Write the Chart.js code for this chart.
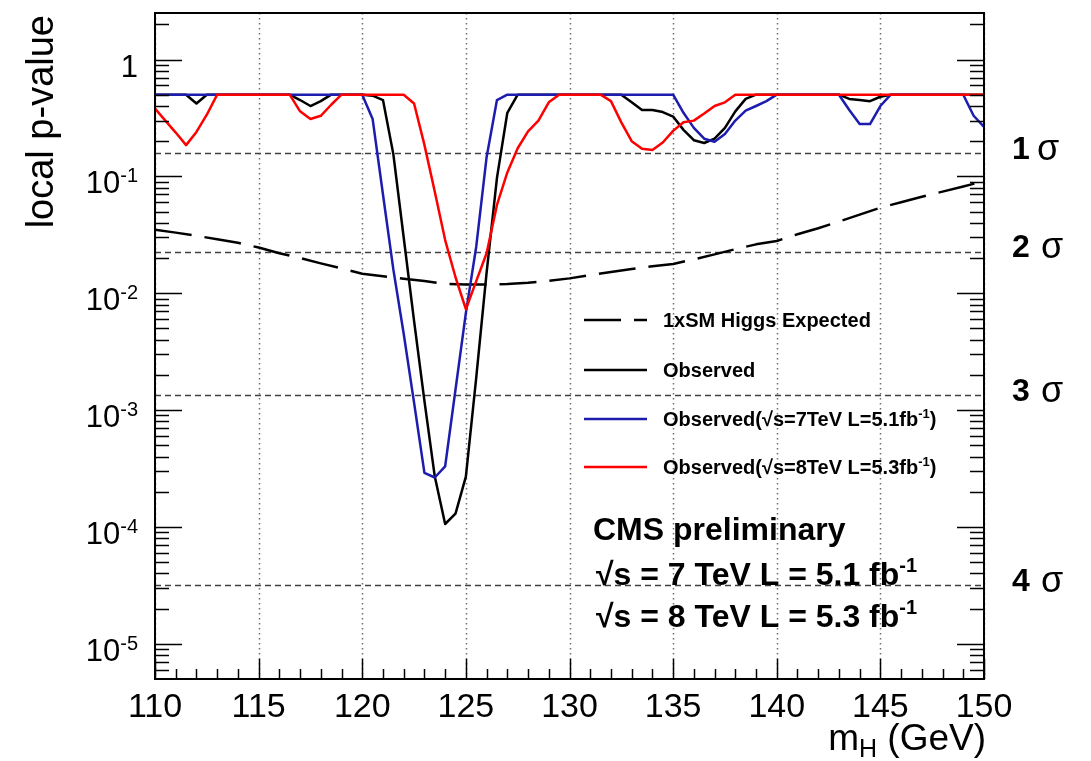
<!DOCTYPE html>
<html>
<head>
<meta charset="utf-8">
<script src="https://cdn.jsdelivr.net/npm/chart.js@4.4.1/dist/chart.umd.min.js"></script>
<style>
  html, body { margin: 0; padding: 0; background: #fff; }
  #wrap { width: 1091px; height: 761px; }
</style>
</head>
<body>
<div id="wrap"><canvas id="pvalueChart" width="1091" height="761"></canvas></div>
<script>
// scan points, 0.5 GeV steps
const masses = [
  110, 110.5, 111, 111.5, 112, 112.5, 113, 113.5, 114, 114.5,
  115, 115.5, 116, 116.5, 117, 117.5, 118, 118.5, 119, 119.5,
  120, 120.5, 121, 121.5, 122, 122.5, 123, 123.5, 124, 124.5,
  125, 125.5, 126, 126.5, 127, 127.5, 128, 128.5, 129, 129.5,
  130, 130.5, 131, 131.5, 132, 132.5, 133, 133.5, 134, 134.5,
  135, 135.5, 136, 136.5, 137, 137.5, 138, 138.5, 139, 139.5,
  140, 140.5, 141, 141.5, 142, 142.5, 143, 143.5, 144, 144.5,
  145, 145.5, 146, 146.5, 147, 147.5, 148, 148.5, 149, 149.5,
  150
];

// combined observed
const observed = [
  .5, .5, .5, .5, .42, .5, .5, .5, .5, .5,
  .5, .5, .5, .5, .45, .40, .44, .5, .5, .5,
  .5, .49, .45, .155, .03, .0058, .0012, 2.7e-4, 1.06e-4, 1.3e-4,
  2.7e-4, 1.9e-3, .015, .097, .35, .5, .5, .5, .5, .5,
  .5, .5, .5, .5, .5, .5, .43, .37, .37, .355,
  .325, .25, .204, .193, .21, .26, .36, .46, .5, .5,
  .5, .5, .5, .5, .5, .5, .5, .46, .45, .44,
  .48, .5, .5, .5, .5, .5, .5, .5, .5, .5,
  .5
];

// 7 TeV observed
const observed7 = [
  .5, .5, .5, .5, .5, .5, .5, .5, .5, .5,
  .5, .5, .5, .5, .5, .5, .5, .5, .5, .5,
  .5, .31, .07, .016, 4.5e-3, 1.16e-3, 2.9e-4, 2.65e-4, 3.3e-4, 1.5e-3,
  6.8e-3, .025, .146, .45, .5, .5, .5, .5, .5, .5,
  .5, .5, .5, .5, .5, .5, .5, .5, .5, .5,
  .5, .35, .26, .21, .198, .23, .30, .365, .40, .44,
  .5, .5, .5, .5, .5, .5, .5, .37, .28, .28,
  .40, .5, .5, .5, .5, .5, .5, .5, .5, .33,
  .265
];

// 8 TeV observed
const observed8 = [
  .38, .30, .237, .185, .24, .337, .5, .5, .5, .5,
  .5, .5, .5, .5, .36, .31, .33, .41, .5, .5,
  .5, .5, .5, .5, .5, .42, .186, .074, .0285, .0137,
  .0073, .0127, .022, .057, .108, .174, .243, .30, .43, .5,
  .5, .5, .5, .5, .44, .29, .20, .172, .168, .195,
  .245, .29, .30, .345, .40, .43, .5, .5, .5, .5,
  .5, .5, .5, .5, .5, .5, .5, .5, .5, .5,
  .5, .5, .5, .5, .5, .5, .5, .5, .5, .5,
  .5
];

// SM Higgs expected
const expectedMass = [110, 111, 112, 113, 114, 115, 116, 117, 118, 119, 120, 121, 122, 123, 124, 125, 126, 127, 128, 129,
  130, 131, 132, 133, 134, 135, 136, 137, 138, 139, 140, 141, 142, 143, 144, 145, 146, 147, 148, 149, 150];
const expectedSM = [.035, .033, .031, .029, .027, .0246, .022, .020, .018, .0163, .0147, .0140, .0133, .0127, .0120, .0119, .0119, .0120, .0123, .0128,
  .0134, .0143, .0152, .0161, .0170, .0178, .0195, .0215, .0238, .0262, .028, .032, .036, .041, .047, .054, .060, .067, .074, .082, .091];

const xTicks = [110, 115, 120, 125, 130, 135, 140, 145, 150];
const yTicks = [1, 1e-1, 1e-2, 1e-3, 1e-4, 1e-5];
const yTickExp = ['', '-1', '-2', '-3', '-4', '-5'];
const sigmaP = [0.158655, 0.0227501, 0.0013499, 3.16712e-5];
const sigmaNames = ['1', '2', '3', '4'];

const FONT = '"Liberation Sans", Arial, Helvetica, sans-serif';

// draws pieces of text one after another: [text, font, dy]
function drawRich(ctx, parts, x, y, align) {
  let total = 0;
  parts.forEach(p => { ctx.font = p[1]; total += ctx.measureText(p[0]).width; });
  let cx = align === 'right' ? x - total : x;
  ctx.textAlign = 'left';
  ctx.textBaseline = 'alphabetic';
  parts.forEach(p => {
    ctx.font = p[1];
    ctx.fillText(p[0], cx, y + (p[2] || 0));
    cx += ctx.measureText(p[0]).width;
  });
}

const rootStyle = {
  id: 'rootStyle',
  beforeDatasetsDraw(chart) {
    const { ctx, chartArea: a, scales: { x, y } } = chart;
    ctx.save();
    // dotted grid on major x ticks
    ctx.strokeStyle = '#6e6e6e';
    ctx.lineWidth = 1.5;
    ctx.setLineDash([1.5, 3.5]);
    xTicks.forEach(v => {
      const px = Math.round(x.getPixelForValue(v)) + 0.5;
      ctx.beginPath(); ctx.moveTo(px, a.top); ctx.lineTo(px, a.bottom); ctx.stroke();
    });
    // sigma lines
    ctx.strokeStyle = '#404040';
    ctx.setLineDash([6, 4]);
    sigmaP.forEach(p => {
      const py = Math.round(y.getPixelForValue(p)) + 0.5;
      ctx.beginPath(); ctx.moveTo(a.left, py); ctx.lineTo(a.right, py); ctx.stroke();
    });
    ctx.restore();
  },
  afterDatasetsDraw(chart) {
    const { ctx, chartArea: a, scales: { x, y } } = chart;
    ctx.save();
    ctx.setLineDash([]);
    ctx.strokeStyle = '#000';
    ctx.fillStyle = '#000';

    // frame
    ctx.lineWidth = 2;
    ctx.strokeRect(a.left, a.top, a.right - a.left, a.bottom - a.top);

    // y ticks, both sides, pointing in
    ctx.lineWidth = 1.5;
    for (let d = -6; d <= 0; d++) {
      for (let k = 1; k <= 9; k++) {
        const v = k * Math.pow(10, d);
        if (v < y.min || v > y.max) continue;
        const py = Math.round(y.getPixelForValue(v)) + 0.5;
        const len = k === 1 ? 27 : 14;
        ctx.beginPath();
        ctx.moveTo(a.left, py); ctx.lineTo(a.left + len, py);
        ctx.moveTo(a.right, py); ctx.lineTo(a.right - len, py);
        ctx.stroke();
      }
    }
    // x ticks
    for (let m = 110; m <= 150; m++) {
      const px = Math.round(x.getPixelForValue(m)) + 0.5;
      const len = m % 5 === 0 ? 20 : 10;
      ctx.beginPath(); ctx.moveTo(px, a.bottom); ctx.lineTo(px, a.bottom - len); ctx.stroke();
    }

    // x tick labels
    ctx.font = '34px ' + FONT;
    ctx.textAlign = 'center';
    ctx.textBaseline = 'alphabetic';
    xTicks.forEach(v => ctx.fillText(String(v), x.getPixelForValue(v), 717));

    // y tick labels
    yTicks.forEach((v, i) => {
      const py = y.getPixelForValue(v);
      if (yTickExp[i] === '') {
        drawRich(ctx, [['1', '31px ' + FONT]], 138, py + 17, 'right');
      } else {
        drawRich(ctx, [['10', '31px ' + FONT], [yTickExp[i], '20px ' + FONT, -11]], 138, py + 17, 'right');
      }
    });

    // axis titles
    drawRich(ctx, [['m', '37px ' + FONT], ['H', '25px ' + FONT, 7], [' (GeV)', '37px ' + FONT]], 986, 750, 'right');
    ctx.save();
    ctx.translate(53, 15);
    ctx.rotate(-Math.PI / 2);
    ctx.font = '38px ' + FONT;
    ctx.textAlign = 'right';
    ctx.textBaseline = 'alphabetic';
    ctx.fillText('local p-value', 0, 0);
    ctx.restore();

    // sigma labels on the right
    sigmaP.forEach((p, i) => {
      const py = y.getPixelForValue(p) - 3;
      ctx.textAlign = 'left';
      ctx.textBaseline = 'middle';
      ctx.font = 'bold 32px ' + FONT;
      ctx.fillText(sigmaNames[i], 1012, py);
      ctx.font = '36px ' + FONT;
      ctx.fillText('σ', i === 0 ? 1037 : 1041, py);
    });

    // legend
    const rows = [
      { ds: 0, y: 320, parts: [['1xSM Higgs Expected', 'bold 20px ' + FONT]] },
      { ds: 1, y: 370, parts: [['Observed', 'bold 20px ' + FONT]] },
      { ds: 2, y: 419, parts: [['Observed(√s=7TeV L=5.1fb', 'bold 20px ' + FONT], ['-1', 'bold 13px ' + FONT, -8], [')', 'bold 20px ' + FONT]] },
      { ds: 3, y: 467, parts: [['Observed(√s=8TeV L=5.3fb', 'bold 20px ' + FONT], ['-1', 'bold 13px ' + FONT, -8], [')', 'bold 20px ' + FONT]] }
    ];
    rows.forEach(r => {
      const ds = chart.data.datasets[r.ds];
      ctx.save();
      ctx.strokeStyle = ds.borderColor;
      ctx.lineWidth = ds.borderWidth;
      ctx.setLineDash(ds.borderDash || []);
      ctx.beginPath(); ctx.moveTo(584, r.y); ctx.lineTo(647, r.y); ctx.stroke();
      ctx.restore();
      drawRich(ctx, r.parts, 663, r.y + 7, 'left');
    });

    // CMS text
    const B = 'bold 32px ' + FONT;
    const S = 'bold 20px ' + FONT;
    drawRich(ctx, [['CMS preliminary', B]], 593, 540, 'left');
    drawRich(ctx, [['√s = 7 TeV L = 5.1 fb', B], ['-1', S, -13]], 596, 585, 'left');
    drawRich(ctx, [['√s = 8 TeV L = 5.3 fb', B], ['-1', S, -13]], 596, 627, 'left');

    ctx.restore();
  }
};

const toPoints = (xs, ys) => xs.map((m, i) => ({ x: m, y: ys[i] }));

new Chart(document.getElementById('pvalueChart').getContext('2d'), {
  type: 'line',
  data: {
    datasets: [
      { label: '1xSM Higgs Expected', data: toPoints(expectedMass, expectedSM), borderColor: '#000', borderWidth: 2.5, borderDash: [37, 13], order: 3 },
      { label: 'Observed', data: toPoints(masses, observed), borderColor: '#000', borderWidth: 2.5, order: 2 },
      { label: 'Observed 7TeV', data: toPoints(masses, observed7), borderColor: '#1c1cae', borderWidth: 2.5, order: 1 },
      { label: 'Observed 8TeV', data: toPoints(masses, observed8), borderColor: '#ff0000', borderWidth: 2.5, order: 0 }
    ]
  },
  options: {
    responsive: false,
    animation: false,
    events: [],
    layout: { padding: { left: 155, right: 107, top: 13, bottom: 82 } },
    elements: {
      point: { radius: 0 },
      line: { tension: 0, fill: false, borderJoinStyle: 'round', borderCapStyle: 'butt' }
    },
    plugins: { legend: { display: false }, tooltip: { enabled: false } },
    scales: {
      x: { type: 'linear', min: 110, max: 150, display: false },
      y: { type: 'logarithmic', min: 5e-6, max: 2.5, display: false }
    }
  },
  plugins: [rootStyle]
});
</script>
</body>
</html>
